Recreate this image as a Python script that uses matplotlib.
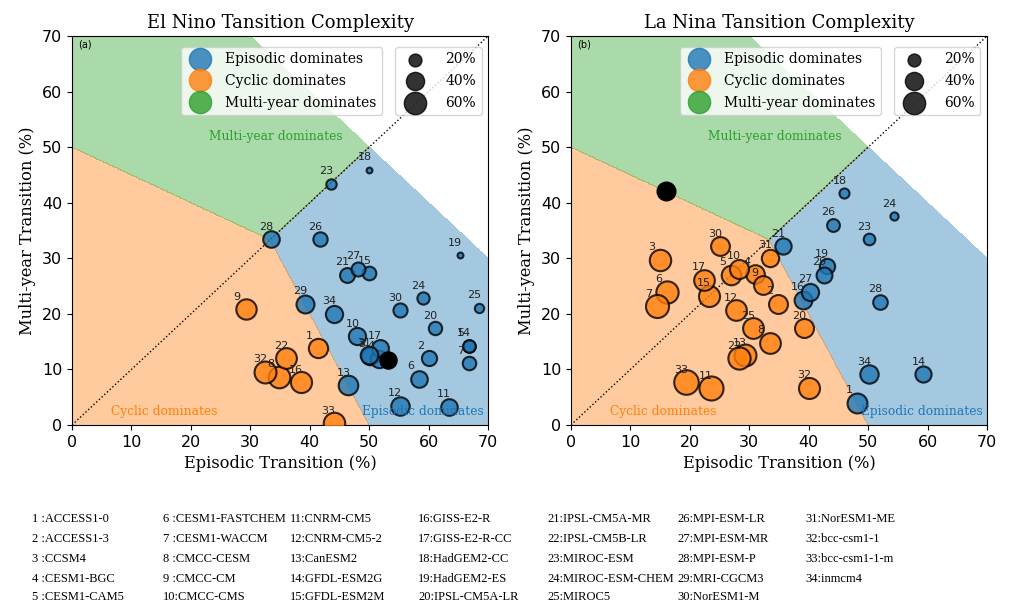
import numpy as np
import matplotlib.pyplot as plt
from matplotlib.lines import Line2D

# model names (CMIP5)
models = ['ACCESS1-0', 'ACCESS1-3', 'CCSM4', 'CESM1-BGC', 'CESM1-CAM5',
          'CESM1-FASTCHEM', 'CESM1-WACCM', 'CMCC-CESM', 'CMCC-CM', 'CMCC-CMS',
          'CNRM-CM5', 'CNRM-CM5-2', 'CanESM2', 'GFDL-ESM2G', 'GFDL-ESM2M',
          'GISS-E2-R', 'GISS-E2-R-CC', 'HadGEM2-CC', 'HadGEM2-ES', 'IPSL-CM5A-LR',
          'IPSL-CM5A-MR', 'IPSL-CM5B-LR', 'MIROC-ESM', 'MIROC-ESM-CHEM', 'MIROC5',
          'MPI-ESM-LR', 'MPI-ESM-MR', 'MPI-ESM-P', 'MRI-CGCM3', 'NorESM1-M',
          'NorESM1-ME', 'bcc-csm1-1', 'bcc-csm1-1-m', 'inmcm4']

# El Nino: episodic / multi-year transition (%)
elnino_epi = [41.4, 60.1, 50.2, 51.7, 66.8, 58.4, 66.8, 34.9, 29.2, 48.0,
              63.4, 55.2, 46.5, 66.8, 50.0, 38.5, 51.8, 50.0, 65.3, 61.0,
              46.2, 36.0, 43.5, 59.1, 68.5, 41.7, 48.1, 33.4, 39.2, 55.2,
              50.0, 32.4, 44.0, 44.1]
elnino_my = [13.8, 12.0, 12.4, 11.9, 14.3, 8.3, 11.1, 8.7, 20.8, 16.0,
             3.3, 3.5, 7.2, 14.3, 27.3, 7.7, 13.8, 45.9, 30.5, 17.4,
             27.0, 12.0, 43.4, 22.8, 21.1, 33.4, 28.1, 33.4, 21.8, 20.7,
             12.6, 9.6, 0.3, 20.0]
elnino_obs = [53.1, 11.7]

# La Nina
lanina_epi = [48.2, 34.9, 15.0, 31.0, 27.0, 16.2, 14.4, 33.4, 32.3, 28.2,
              23.5, 27.7, 29.3, 59.3, 23.2, 39.0, 22.4, 46.0, 43.0, 39.2,
              35.7, 28.2, 50.2, 54.3, 30.6, 44.1, 40.2, 52.0, 42.5, 25.1,
              33.5, 40.1, 19.4, 50.1]
lanina_my = [4.0, 21.8, 29.7, 27.1, 27.0, 24.0, 21.4, 14.8, 25.1, 28.1,
             6.6, 20.7, 12.6, 9.1, 23.3, 22.5, 26.1, 41.7, 28.6, 17.4,
             32.2, 12.0, 33.4, 37.6, 17.4, 36.0, 24.0, 22.2, 27.0, 32.2,
             30.1, 6.7, 7.7, 9.1]
lanina_obs = [16.0, 42.1]

size_legend = [20, 40, 60]
colors = ['tab:blue', 'tab:orange', 'tab:green']
region_names = ['Episodic dominates', 'Cyclic dominates', 'Multi-year dominates']

serif = 'DejaVu Serif'
k = 4.3  # marker area per percent of cyclic transition


def panel(ax, epi, my, obs, title, tag):
    epi = np.array(epi)
    my = np.array(my)
    cyc = 100 - epi - my
    # background regions
    g = np.linspace(0, 70, 701)
    X, Y = np.meshgrid(g, g)
    dom = np.argmax(np.stack([X, 100 - X - Y, Y]), axis=0).astype(float)
    dom[X + Y > 100] = np.nan
    ax.contourf(X, Y, dom, levels=[-0.5, 0.5, 1.5, 2.5], colors=colors, alpha=0.4)
    ax.plot([0, 70], [0, 70], 'k:', lw=1)

    cat = np.argmax(np.stack([epi, cyc, my]), axis=0)
    for i in range(len(epi)):
        ax.scatter(epi[i], my[i], s=k * cyc[i], color=colors[cat[i]], alpha=0.8,
                   edgecolor='k', linewidth=1.5, zorder=3)
        ax.text(epi[i] - 2, my[i] + 1.7, str(i + 1), fontsize=8, color='#222222', zorder=4)
    ax.scatter(obs[0], obs[1], s=k * (100 - obs[0] - obs[1]), color='k', zorder=5)

    ax.text(34.3, 52, 'Multi-year dominates', color='tab:green', ha='center', va='center',
            fontsize=8.8, family=serif)
    ax.text(15.6, 2.4, 'Cyclic dominates', color='tab:orange', ha='center', va='center',
            fontsize=8.8, family=serif)
    ax.text(59.1, 2.4, 'Episodic dominates', color='tab:blue', ha='center', va='center',
            fontsize=8.8, family=serif)
    ax.text(1, 68, tag, fontsize=7)

    ax.set_xlim(0, 70)
    ax.set_ylim(0, 70)
    ax.tick_params(labelsize=11.5)
    ax.set_title(title, fontsize=13, family=serif)
    ax.set_xlabel('Episodic Transition (%)', fontsize=11.7, family=serif)
    ax.set_ylabel('Multi-year Transition (%)', fontsize=11.7, family=serif)

    h1 = [Line2D([], [], marker='o', ls='', color=c, alpha=0.8, markersize=16) for c in colors]
    leg1 = ax.legend(h1, region_names, loc='upper left', bbox_to_anchor=(0.245, 0.99),
                     prop={'family': serif, 'size': 10}, handletextpad=0.8,
                     labelspacing=0.55, borderpad=0.4)
    ax.add_artist(leg1)
    h2 = [ax.scatter([], [], s=k * p, color='k', alpha=0.8, edgecolor='k') for p in size_legend]
    ax.legend(h2, ['%d%%' % p for p in size_legend], loc='upper left',
              bbox_to_anchor=(0.76, 0.99), prop={'family': serif, 'size': 10},
              handletextpad=1.2, labelspacing=0.55, borderpad=0.4)


fig = plt.figure(figsize=(10.1, 6.04), dpi=100)
ax1 = fig.add_axes([0.0713, 0.2964, 0.412, 0.644])
ax2 = fig.add_axes([0.5653, 0.2964, 0.412, 0.644])
panel(ax1, elnino_epi, elnino_my, elnino_obs, 'El Nino Tansition Complexity', '(a)')
panel(ax2, lanina_epi, lanina_my, lanina_obs, 'La Nina Tansition Complexity', '(b)')

# model key below the panels
col_x = [32, 163, 290, 418, 547, 677, 805]
row_y = [519, 539, 559, 579, 597]
for i, name in enumerate(models):
    c, r = divmod(i, 5)
    fig.text(col_x[c] / 1010, 1 - row_y[r] / 604, '%-2d:%s' % (i + 1, name),
             fontsize=9, family='Liberation Serif', va='center')

fig.savefig('out.png', dpi=100)
